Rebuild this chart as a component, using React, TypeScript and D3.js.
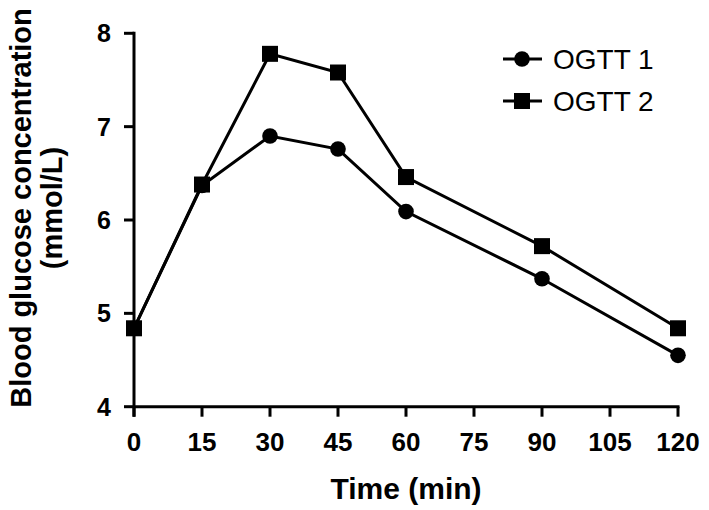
import React from "react";
import * as d3 from "d3";

const times = [0, 15, 30, 45, 60, 90, 120];
const ogtt1 = [4.84, 6.37, 6.9, 6.76, 6.09, 5.37, 4.55];
const ogtt2 = [4.84, 6.38, 7.78, 7.58, 6.46, 5.72, 4.84];
const xTicks = [0, 15, 30, 45, 60, 75, 90, 105, 120];
const yTicks = [4, 5, 6, 7, 8];
const seriesNames = ["OGTT 1", "OGTT 2"];

const W = 709;
const H = 510;
const FONT = "'Liberation Sans', Arial, Helvetica, sans-serif";

export default function App() {
  const x = d3.scaleLinear().domain([0, 120]).range([134, 678]);
  const y = d3.scaleLinear().domain([4, 8]).range([406.7, 33.3]);
  const line = d3
    .line<[number, number]>()
    .x((d) => x(d[0]))
    .y((d) => y(d[1]));
  const s1: [number, number][] = times.map((t, i) => [t, ogtt1[i]]);
  const s2: [number, number][] = times.map((t, i) => [t, ogtt2[i]]);
  const y0 = y(4);
  const x0 = x(0);

  return (
    <svg
      width={W}
      height={H}
      style={{ position: "absolute", left: 0, top: 0, background: "#fff" }}
      fontFamily={FONT}
    >
      <rect x={0} y={0} width={W} height={H} fill="#fff" />
      {/* axes */}
      <line x1={x0} x2={x(120) + 1.5} y1={y0} y2={y0} stroke="#000" strokeWidth={3} />
      <line x1={x0} x2={x0} y1={y(8) - 1.5} y2={y0 + 10} stroke="#000" strokeWidth={3} />
      {yTicks.map((t) => (
        <g key={"y" + t}>
          <line x1={x0 - 10} x2={x0} y1={y(t)} y2={y(t)} stroke="#000" strokeWidth={3} />
          <text x={111} y={y(t) + 9} textAnchor="end" fontSize={25} fontWeight="bold">
            {t}
          </text>
        </g>
      ))}
      {xTicks.map((t) => (
        <g key={"x" + t}>
          <line x1={x(t)} x2={x(t)} y1={y0} y2={y0 + 10} stroke="#000" strokeWidth={3} />
          <text x={x(t)} y={451} textAnchor="middle" fontSize={26} fontWeight="bold">
            {t}
          </text>
        </g>
      ))}
      <text x={406} y={499} textAnchor="middle" fontSize={30} fontWeight="bold">
        Time (min)
      </text>
      <text
        transform="translate(31,208) rotate(-90)"
        textAnchor="middle"
        fontSize={29}
        fontWeight="bold"
      >
        Blood glucose concentration
      </text>
      <text
        transform="translate(62,208) rotate(-90)"
        textAnchor="middle"
        fontSize={29}
        fontWeight="bold"
      >
        (mmol/L)
      </text>
      {/* lines */}
      <path d={line(s1) || ""} fill="none" stroke="#000" strokeWidth={3} />
      <path d={line(s2) || ""} fill="none" stroke="#000" strokeWidth={3} />
      {s1.map((d, i) => (
        <circle key={"c" + i} cx={x(d[0])} cy={y(d[1])} r={7.8} fill="#000" />
      ))}
      {s2.map((d, i) => (
        <rect key={"r" + i} x={x(d[0]) - 8} y={y(d[1]) - 8} width={16} height={16} fill="#000" />
      ))}
      {/* legend */}
      {seriesNames.map((n, i) => {
        const ly = 59 + i * 42;
        return (
          <g key={n}>
            <line x1={503} x2={542} y1={ly} y2={ly} stroke="#000" strokeWidth={3} />
            {i === 0 ? (
              <circle cx={522} cy={ly} r={7.8} fill="#000" />
            ) : (
              <rect x={514} y={ly - 8} width={16} height={16} fill="#000" />
            )}
            <text x={553} y={ly + 9.5} fontSize={28}>
              {n}
            </text>
          </g>
        );
      })}
    </svg>
  );
}
